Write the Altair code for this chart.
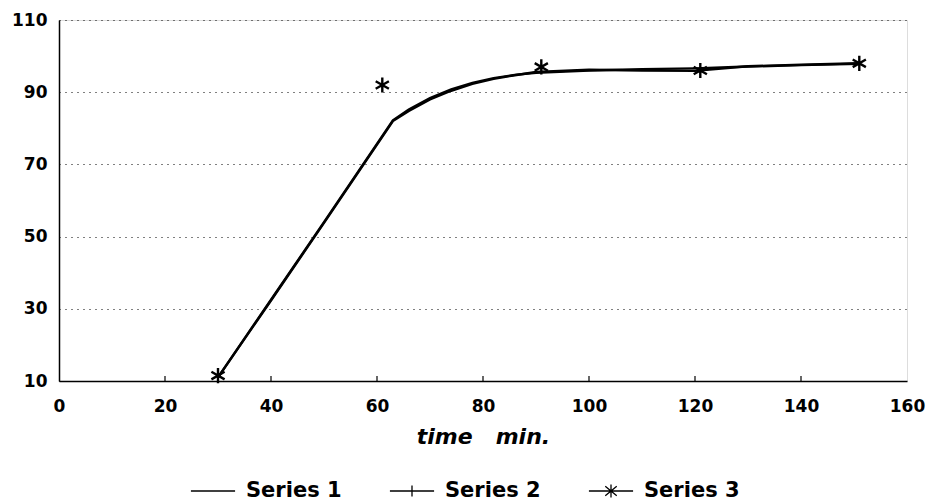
import altair as alt
import pandas as pd

# ---- data ----
series_names = ["Series 1", "Series 2", "Series 3"]

s1_x = [30, 40, 50, 63, 66, 70, 74, 78, 82, 86, 90, 100, 110, 120, 130, 140, 151]
s1_y = [11, 32.5, 54, 82.2, 85.2, 88.4, 90.8, 92.6, 93.9, 94.8, 95.4, 96.0, 96.4, 96.6, 97.1, 97.5, 97.9]

s2_x = [30, 40, 50, 63, 66, 70, 74, 78, 82, 86, 90, 100, 110, 120, 130, 140, 151]
s2_y = [11, 32.3, 53.8, 82.0, 84.8, 88.0, 90.4, 92.3, 93.7, 94.7, 95.6, 96.2, 96.0, 95.9, 97.2, 97.6, 98.0]

s3_x = [30, 61, 91, 121, 151]
s3_y = [11.5, 92, 97, 96, 98]

x_ticks = [0, 20, 40, 60, 80, 100, 120, 140, 160]
x_inner_ticks = [20, 40, 60, 80, 100, 120, 140]
y_ticks = [10, 30, 50, 70, 90, 110]

x_title = "time\u00a0\u00a0\u00a0min."

legend_paths = [
    "M-1,0H1",
    "M-1,0H1M0,-0.25V0.25",
    "M-1,0H1M0,-0.3V0.3M-0.26,-0.22L0.26,0.22M-0.26,0.22L0.26,-0.22",
]
star_path = "M0,-1V1M-0.87,-0.5L0.87,0.5M-0.87,0.5L0.87,-0.5"

curves = pd.concat([
    pd.DataFrame({"x": s1_x, "y": s1_y, "series": series_names[0]}),
    pd.DataFrame({"x": s2_x, "y": s2_y, "series": series_names[1]}),
])
stars = pd.DataFrame({"x": s3_x, "y": s3_y, "series": series_names[2]})
all_pts = pd.concat([curves, stars])
tick_df = pd.DataFrame({"x": x_inner_ticks})

FONT = "DejaVu Sans"

xscale = alt.Scale(domain=[0, 160], nice=False, zero=False)
yscale = alt.Scale(domain=[10, 110], nice=False, zero=False)

x_enc = alt.X("x:Q", scale=xscale,
              axis=alt.Axis(values=x_ticks, title=x_title, grid=False,
                            ticks=False, labelPadding=17, labelFontSize=17,
                            labelFont=FONT, labelFontWeight="bold", labelColor="black",
                            labelFlush=False,
                            titleFont=FONT, titleFontSize=22, titleFontWeight="bold",
                            titleFontStyle="italic", titleColor="black", titlePadding=12,
                            domainColor="black", domainWidth=1.5))
y_enc = alt.Y("y:Q", scale=yscale,
              axis=alt.Axis(values=y_ticks, title=None, grid=True, ticks=False,
                            gridDash=[1, 5], gridColor="black", gridWidth=1,
                            labelPadding=12, labelFontSize=17, labelFont=FONT,
                            labelFontWeight="bold", labelColor="black", labelFlush=False,
                            domainColor="black", domainWidth=1.5))

lines = alt.Chart(curves).mark_line(color="black", strokeWidth=2.4).encode(
    x=x_enc, y=y_enc, detail="series:N"
)

star_marks = alt.Chart(stars).mark_point(
    shape=star_path, size=230, filled=False, color="black", strokeWidth=2.4, opacity=1
).encode(x="x:Q", y="y:Q")

inner_ticks = alt.Chart(tick_df).mark_rule(color="black", strokeWidth=1.2).encode(
    x="x:Q", y=alt.datum(10), y2=alt.datum(11.4)
)

legend_layer = alt.Chart(all_pts).mark_point(filled=False, opacity=0).encode(
    x="x:Q", y="y:Q",
    shape=alt.Shape("series:N",
                    scale=alt.Scale(domain=series_names, range=legend_paths),
                    legend=alt.Legend(
                        title=None, orient="none", direction="horizontal",
                        legendX=131, legendY=448, padding=0,
                        symbolSize=1950, symbolStrokeColor="black",
                        symbolFillColor="transparent", symbolStrokeWidth=1.3,
                        symbolOpacity=1, labelFont=FONT, labelFontSize=21,
                        labelFontWeight="bold", labelColor="black",
                        labelOffset=10, columnPadding=45,
                    )),
)

chart = alt.layer(lines, inner_ticks, star_marks, legend_layer).properties(
    width=848, height=361,
    autosize=alt.AutoSizeParams(type="none"),
    padding={"left": 51, "top": 12, "right": 20, "bottom": 123},
).configure_view(stroke="black", strokeWidth=1.5).configure(background="white")

chart.save("out.html", embed_options={"renderer": "svg", "actions": False})
